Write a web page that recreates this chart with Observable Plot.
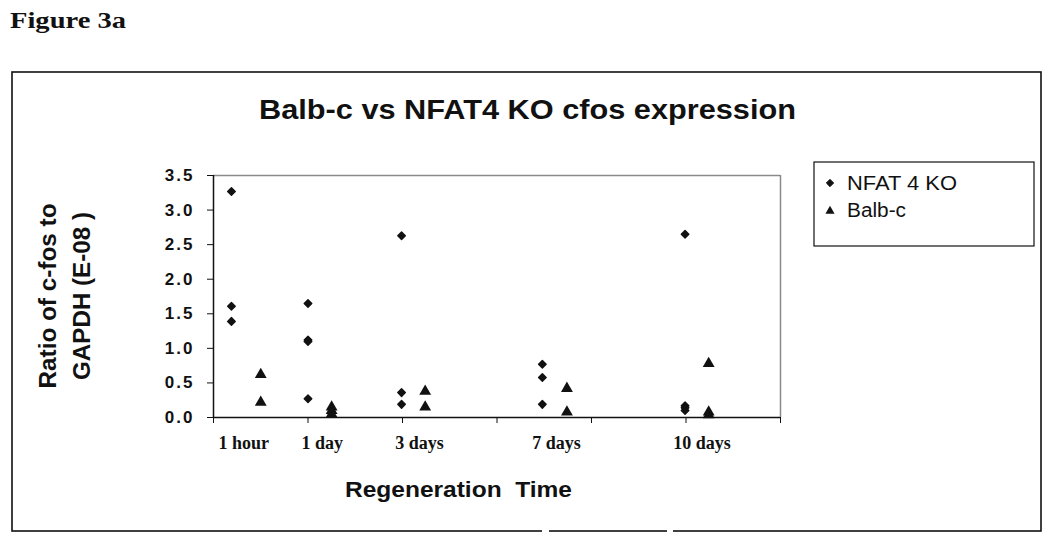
<!DOCTYPE html>
<html><head><meta charset="utf-8">
<script src="https://cdn.jsdelivr.net/npm/d3@7"></script>
<script src="https://cdn.jsdelivr.net/npm/@observablehq/plot@0.6"></script>
<style>
body{margin:0;background:#fff}
#chart{position:relative;width:1050px;height:539px}
#chart svg [aria-label="y-axis tick label"] text{font-weight:bold;letter-spacing:2px}
</style>
</head><body><div id="chart"></div>
<script>
// ---- data ----
const categories = ["1 hour", "1 day", "3 days", "7 days", "10 days"];
const koX   = [0.19, 1.00, 1.99, 3.48, 4.99];   // x position of NFAT 4 KO cluster
const balbX = [0.50, 1.25, 2.24, 3.74, 5.24];   // x position of Balb-c cluster
const labelX = [0.32, 1.15, 2.18, 3.63, 5.17];  // category label centres
const koValues = [
  [3.27, 1.61, 1.39],
  [1.65, 1.12, 1.10, 0.27],
  [2.63, 0.36, 0.19],
  [0.77, 0.58, 0.19],
  [2.65, 0.17, 0.14, 0.10]
];
const balbValues = [
  [0.62, 0.22],
  [0.15, 0.10, 0.05],
  [0.38, 0.15],
  [0.42, 0.08],
  [0.78, 0.08, 0.04]
];
const yTicks = [0, 0.5, 1.0, 1.5, 2.0, 2.5, 3.0, 3.5];
const xTicks = [0, 1, 2, 3, 4, 5, 6];
const seriesNames = ["NFAT 4 KO", "Balb-c"];

const koRows = [], balbRows = [];
categories.forEach((c, i) => {
  koValues[i].forEach(v => koRows.push({category: c, x: koX[i], value: v}));
  balbValues[i].forEach(v => balbRows.push({category: c, x: balbX[i], value: v}));
});

const sans = "'Liberation Sans', Arial, Helvetica, sans-serif";
const serif = "'Liberation Serif', 'Times New Roman', Times, serif";

const chart = Plot.plot({
  width: 1050, height: 539,
  marginLeft: 213, marginRight: 270, marginTop: 175, marginBottom: 122,
  x: {domain: [0, 6], axis: null},
  y: {domain: [0, 3.5], axis: null},
  style: {fontFamily: sans, background: "#fff", color: "#111", overflow: "visible"},
  marks: [
    Plot.ruleY([3.5], {stroke: "#8a8a8a", strokeWidth: 1.5}),
    Plot.ruleX([6], {stroke: "#8a8a8a", strokeWidth: 1.5}),
    Plot.axisY({ticks: yTicks, tickFormat: d3.format(".1f"), tickSize: 6, tickPadding: 13,
      fontSize: 17, fontWeight: "bold", label: null}),
    Plot.axisX({ticks: xTicks, tickFormat: () => "", tickSize: 6, label: null}),
    Plot.ruleX([0], {stroke: "#111", strokeWidth: 1.5}),
    Plot.ruleY([0], {stroke: "#111", strokeWidth: 1.5}),
    Plot.text(categories, {x: (d, i) => labelX[i], text: d => d, frameAnchor: "bottom", dy: 31,
      fontFamily: serif, fontWeight: "bold", fontSize: 18, fill: "#111"}),
    Plot.dot(koRows, {x: "x", y: "value", symbol: "diamond2", r: 3.4, fill: "#111",
      stroke: "#111", strokeWidth: 1.4, strokeLinejoin: "round"}),
    Plot.dot(balbRows, {x: "x", y: "value", symbol: "triangle", r: 4.4, fill: "#111", stroke: "none"})
  ]
});
document.getElementById("chart").appendChild(chart);

// ---- annotations (frame, titles, legend) ----
const svg = d3.select(chart);
const g = svg.append("g").attr("class", "annotations");

g.append("rect").attr("x", 12).attr("y", 72).attr("width", 1029).attr("height", 459)
  .attr("fill", "none").attr("stroke", "#111").attr("stroke-width", 1.6);
g.append("rect").attr("x", 542).attr("y", 528).attr("width", 7).attr("height", 6).attr("fill", "#fff");
g.append("rect").attr("x", 667).attr("y", 528).attr("width", 6).attr("height", 6).attr("fill", "#fff");

function addText(str, o) {
  const t = g.append("text").text(str)
    .attr("x", o.x).attr("y", o.y)
    .attr("font-family", o.family || sans)
    .attr("font-weight", o.weight || "bold")
    .attr("font-size", o.size)
    .attr("fill", "#111")
    .attr("text-anchor", o.anchor || "start")
    .style("white-space", "pre");
  if (o.length) t.attr("textLength", o.length).attr("lengthAdjust", "spacingAndGlyphs");
  if (o.baseline) t.attr("dominant-baseline", o.baseline);
  if (o.rotate) t.attr("transform", `rotate(${o.rotate},${o.x},${o.y})`);
  return t;
}

addText("Figure 3a", {x: 10, y: 28, size: 22.5, family: serif, length: 116});
addText("Balb-c vs NFAT4 KO cfos expression", {x: 259, y: 119, size: 28, length: 537});
addText("Regeneration  Time", {x: 345, y: 497, size: 22, length: 227});
addText("Ratio of c-fos to", {x: 48, y: 296, size: 23, anchor: "middle", baseline: "central", rotate: -90, length: 185});
addText("GAPDH (E-08 )", {x: 82, y: 296, size: 23, anchor: "middle", baseline: "central", rotate: -90, length: 168});

// legend
g.append("rect").attr("x", 814).attr("y", 162).attr("width", 220).attr("height", 84)
  .attr("fill", "#fff").attr("stroke", "#111").attr("stroke-width", 1.2);
g.append("path").attr("d", d3.symbol(d3.symbolDiamond2, 34)()).attr("transform", "translate(830,183)")
  .attr("fill", "#111").attr("stroke", "#111").attr("stroke-width", 1).attr("stroke-linejoin", "round");
g.append("path").attr("d", d3.symbol(d3.symbolTriangle, 36)()).attr("transform", "translate(830,211)").attr("fill", "#111");
addText(seriesNames[0], {x: 847, y: 190, size: 20, weight: "normal", length: 110});
addText(seriesNames[1], {x: 847, y: 217, size: 20, weight: "normal", length: 59});
</script>
</body></html>
